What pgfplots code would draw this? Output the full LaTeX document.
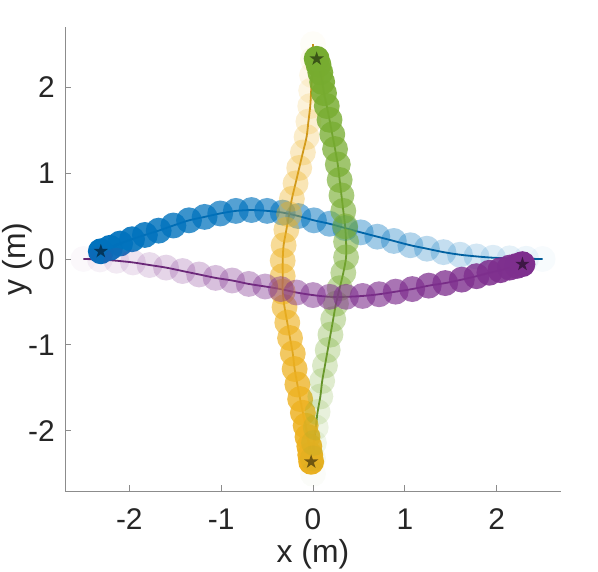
\documentclass[border=0pt]{standalone}
\usepackage{pgfplots}
\pgfplotsset{compat=1.18}
\usepackage{pgfplotstable}
\usepackage{fontspec}
\setmainfont{Liberation Sans}

\definecolor{cb}{HTML}{0072BD}
\definecolor{lb}{HTML}{005B97}
\definecolor{cp}{HTML}{7E2F8E}
\definecolor{lp}{HTML}{652672}
\definecolor{cy}{HTML}{EDB120}
\definecolor{ly}{HTML}{C48E18}
\definecolor{cg}{HTML}{77AC30}
\definecolor{lg}{HTML}{5F8A26}
\definecolor{txt}{HTML}{262626}

% filled five-point star
\pgfdeclareplotmark{fstar}{%
  \pgfpathmoveto{\pgfpointpolar{90}{\pgfplotmarksize}}%
  \pgfpathlineto{\pgfpointpolar{126}{0.382\pgfplotmarksize}}%
  \pgfpathlineto{\pgfpointpolar{162}{\pgfplotmarksize}}%
  \pgfpathlineto{\pgfpointpolar{198}{0.382\pgfplotmarksize}}%
  \pgfpathlineto{\pgfpointpolar{234}{\pgfplotmarksize}}%
  \pgfpathlineto{\pgfpointpolar{270}{0.382\pgfplotmarksize}}%
  \pgfpathlineto{\pgfpointpolar{306}{\pgfplotmarksize}}%
  \pgfpathlineto{\pgfpointpolar{342}{0.382\pgfplotmarksize}}%
  \pgfpathlineto{\pgfpointpolar{18}{\pgfplotmarksize}}%
  \pgfpathlineto{\pgfpointpolar{54}{0.382\pgfplotmarksize}}%
  \pgfpathclose\pgfusepathqfill}

% filled disc, no outline, opacity taken from the current point
\pgfdeclareplotmark{fdot}{%
  \pgfscope
  \pgfsetfillopacity{\ptalpha}%
  \pgfpathcircle{\pgfpointorigin}{\pgfplotmarksize}%
  \pgfusepathqfill
  \endpgfscope}

% robot 1 (blue): right -> left
\pgfplotstableread{
x y a
2.50 0.000 0.033
2.32 0.003 0.067
2.14 0.008 0.100
1.96 0.015 0.133
1.78 0.030 0.167
1.60 0.050 0.200
1.42 0.080 0.233
1.24 0.120 0.267
1.06 0.160 0.300
0.88 0.210 0.333
0.70 0.260 0.367
0.52 0.310 0.400
0.35 0.360 0.433
0.18 0.410 0.467
0.01 0.450 0.500
-0.16 0.500 0.533
-0.33 0.540 0.567
-0.50 0.560 0.600
-0.67 0.570 0.633
-0.84 0.560 0.667
-1.01 0.530 0.700
-1.18 0.490 0.733
-1.35 0.450 0.767
-1.52 0.390 0.800
-1.68 0.330 0.833
-1.83 0.280 0.867
-1.97 0.230 0.900
-2.10 0.180 0.933
-2.21 0.130 0.967
-2.31 0.090 1.000
}\tblue

% robot 2 (purple): left -> right
\pgfplotstableread{
x y a
-2.50 0.000 0.033
-2.32 -0.005 0.067
-2.14 -0.020 0.100
-1.96 -0.040 0.133
-1.78 -0.070 0.167
-1.60 -0.100 0.200
-1.42 -0.140 0.233
-1.24 -0.180 0.267
-1.06 -0.220 0.300
-0.88 -0.250 0.333
-0.70 -0.290 0.367
-0.52 -0.320 0.400
-0.35 -0.350 0.433
-0.18 -0.390 0.467
0.00 -0.420 0.500
0.18 -0.440 0.533
0.36 -0.440 0.567
0.54 -0.430 0.600
0.72 -0.410 0.633
0.90 -0.380 0.667
1.08 -0.350 0.700
1.26 -0.310 0.733
1.44 -0.280 0.767
1.62 -0.240 0.800
1.78 -0.200 0.833
1.92 -0.160 0.867
2.04 -0.130 0.900
2.14 -0.100 0.933
2.22 -0.080 0.967
2.28 -0.060 1.000
}\tpurple

% robot 3 (yellow): top -> bottom
\pgfplotstableread{
x y a
0.00 2.50 0.033
0.00 2.32 0.067
-0.01 2.14 0.100
-0.02 1.96 0.133
-0.03 1.78 0.167
-0.05 1.60 0.200
-0.07 1.42 0.233
-0.11 1.24 0.267
-0.15 1.06 0.300
-0.19 0.88 0.333
-0.23 0.70 0.367
-0.26 0.52 0.400
-0.29 0.34 0.433
-0.32 0.16 0.467
-0.33 -0.02 0.500
-0.33 -0.20 0.533
-0.33 -0.38 0.567
-0.31 -0.56 0.600
-0.28 -0.74 0.633
-0.25 -0.92 0.667
-0.22 -1.10 0.700
-0.20 -1.28 0.733
-0.17 -1.46 0.767
-0.14 -1.63 0.800
-0.11 -1.79 0.833
-0.08 -1.94 0.867
-0.06 -2.07 0.900
-0.04 -2.18 0.933
-0.03 -2.28 0.967
-0.02 -2.36 1.000
}\tyellow

% robot 4 (green): bottom -> top
\pgfplotstableread{
x y a
0.00 -2.50 0.033
0.00 -2.32 0.067
0.01 -2.14 0.100
0.03 -1.96 0.133
0.05 -1.78 0.167
0.08 -1.60 0.200
0.10 -1.42 0.233
0.13 -1.24 0.267
0.16 -1.06 0.300
0.19 -0.88 0.333
0.22 -0.70 0.367
0.25 -0.52 0.400
0.29 -0.34 0.433
0.33 -0.16 0.467
0.36 0.02 0.500
0.36 0.20 0.533
0.35 0.38 0.567
0.33 0.56 0.600
0.31 0.74 0.633
0.29 0.92 0.667
0.27 1.10 0.700
0.24 1.28 0.733
0.21 1.45 0.767
0.18 1.62 0.800
0.15 1.78 0.833
0.12 1.93 0.867
0.10 2.06 0.900
0.08 2.17 0.933
0.06 2.26 0.967
0.04 2.33 1.000
}\tgreen

\pgfplotsset{
  trail/.style={scatter, only marks, mark=fdot, mark size=13pt,
    scatter/use mapped color={fill=#1},
    visualization depends on={\thisrow{a}\as\ptalpha}},
  path line/.style={no marks, smooth, line width=1.8bp, color=#1},
  goal/.style={only marks, mark=fstar, mark size=7.5pt,
    mark options={fill=black, fill opacity=0.5}},
}

\begin{document}
\begin{tikzpicture}
\begin{axis}[
  scale only axis, width=496bp, height=464bp,
  xmin=-2.7, xmax=2.7, ymin=-2.7, ymax=2.7,
  clip=false,
  axis lines*=left,
  axis line style={-, black!45, line width=0.9bp},
  tick align=inside, major tick length=6bp,
  tick style={black!45, line width=0.9bp},
  xtick={-2,-1,0,1,2}, xticklabels={-2,-1,0,1,2},
  ytick={-2,-1,0,1,2}, yticklabels={-2,-1,0,1,2},
  ticklabel style={font=\fontsize{30}{30}\selectfont, text=txt, inner sep=0pt},
  xticklabel style={anchor=base, yshift=-38bp},
  yticklabel style={anchor=base east, xshift=-10bp, yshift=-10.7bp},
  xlabel={x (m)}, ylabel={y (m)},
  label style={font=\fontsize{32}{32}\selectfont, text=txt, inner sep=0pt},
  xlabel style={at={(axis description cs:0.5,-0.155)}, anchor=base},
  ylabel style={at={(axis description cs:-0.0806,0.5)}, anchor=base},
]
% executed trajectories, fading in with time
\addplot[trail=cb] table[x=x, y=y, meta=a]{\tblue};
\addplot[trail=cy] table[x=x, y=y, meta=a]{\tyellow};
\addplot[trail=cg] table[x=x, y=y, meta=a]{\tgreen};
\addplot[trail=cp] table[x=x, y=y, meta=a]{\tpurple};
% end points
\addplot[goal] coordinates {(-2.31,0.09) (2.28,-0.06) (-0.02,-2.36) (0.04,2.33)};
% planned paths
\addplot[path line=lb] table[x=x, y=y]{\tblue};
\addplot[path line=lp] table[x=x, y=y]{\tpurple};
\addplot[path line=ly] table[x=x, y=y]{\tyellow};
\addplot[path line=lg] table[x=x, y=y]{\tgreen};
\end{axis}
\pgfresetboundingbox
\path[use as bounding box]
  ([shift={(-65bp,-80bp)}]current axis.south west) rectangle
  ([shift={(37bp,27bp)}]current axis.north east);
\end{tikzpicture}
\end{document}
